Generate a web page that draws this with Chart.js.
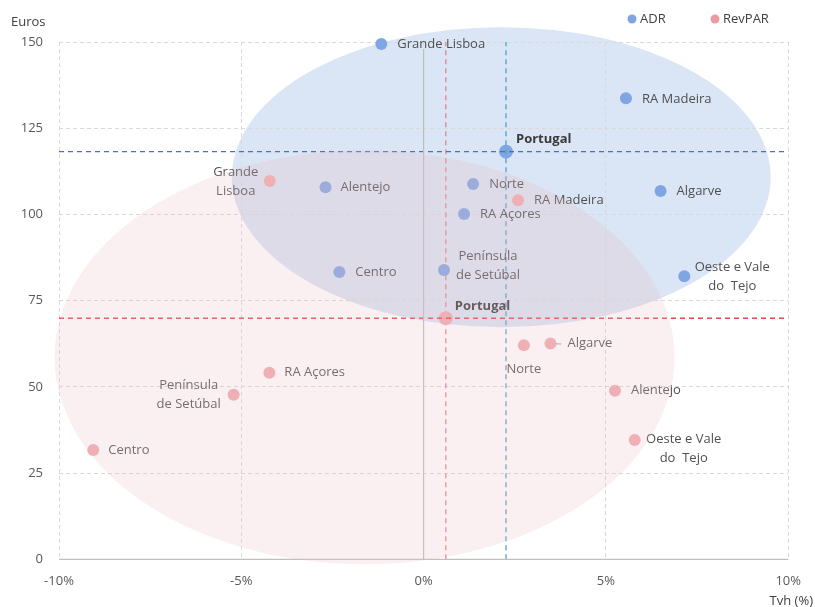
<!DOCTYPE html>
<html>
<head>
<meta charset="utf-8">
<script src="https://cdn.jsdelivr.net/npm/chart.js@4"></script>
<style>
  html,body{margin:0;padding:0;background:#fff;}
  #wrap{width:815px;height:607px;position:relative;}
</style>
</head>
<body>
<div id="wrap"><canvas id="chart"></canvas></div>
<script>
// ─── Data ───
const regions   = ['Grande Lisboa','RA Madeira','Algarve','Norte','RA Açores','Alentejo','Península de Setúbal','Centro','Oeste e Vale do Tejo','Portugal'];
const adrTvh    = [-1.16, 5.55, 6.50, 1.36, 1.11, -2.69, 0.56, -2.31, 7.15, 2.26];
const adrEuros  = [149.4, 133.7, 106.8, 108.8, 100.1, 107.9, 83.9, 83.3, 82.1, 118.2];
const revTvh    = [-4.22, 2.59, 3.48, 2.75, -4.23, 5.25, -5.21, -9.06, 5.79, 0.61];
const revEuros  = [109.7, 104.1, 62.6, 62.1, 54.1, 48.9, 47.7, 31.7, 34.6, 69.9];
const adrText   = ['Grande Lisboa','RA Madeira','Algarve','Norte','RA Açores','Alentejo','Península\nde Setúbal','Centro','Oeste e Vale\ndo  Tejo','Portugal'];
const revText   = ['Grande\nLisboa','RA Madeira','Algarve','Norte','RA Açores','Alentejo','Península\nde Setúbal','Centro','Oeste e Vale\ndo  Tejo','Portugal'];
const xTicks    = [-10,-5,0,5,10];
const yTicks    = [0,25,50,75,100,125,150];
const PT = regions.indexOf('Portugal');

// ─── Label placement (px offsets from the point) ───
const adrPlace = [
  {dx:16,dy:0},{dx:16,dy:1},{dx:16,dy:0},{dx:16,dy:0},{dx:16,dy:0},{dx:15,dy:0},
  {dx:44,dy:-14,align:'center'},{dx:16,dy:0},{dx:48,dy:-9,align:'center'},{dx:10,dy:-12,bold:true}
];
const revPlace = [
  {dx:-34,dy:-9,align:'center'},{dx:16,dy:0},{dx:17,dy:0,leader:true},{dx:0,dy:24,align:'center'},
  {dx:15,dy:0},{dx:16,dy:0},{dx:-45,dy:-10,align:'center'},{dx:15,dy:0},{dx:49,dy:-1,align:'center'},{dx:9,dy:-12,bold:true}
];

// ─── Colours ───
const C_ADR='#7fa5e3', C_REV='#efabaf';
const FONT="'Open Sans', sans-serif";

// ellipses in data units
const blueEll={cx:2.13,cy:110.8,rx:7.39,ry:43.5};
const pinkEll={cx:-1.62,cy:58.6,rx:8.5,ry:60};

function ellipse(chart,e,fill){
  const {x,y}=chart.scales, ctx=chart.ctx;
  const cx=x.getPixelForValue(e.cx), cy=y.getPixelForValue(e.cy);
  const rx=x.getPixelForValue(e.cx+e.rx)-cx, ry=cy-y.getPixelForValue(e.cy+e.ry);
  ctx.save();ctx.fillStyle=fill;ctx.beginPath();ctx.ellipse(cx,cy,rx,ry,0,0,Math.PI*2);ctx.fill();ctx.restore();
}

function drawLabels(chart,dsIndex,texts,place){
  const ctx=chart.ctx, meta=chart.getDatasetMeta(dsIndex);
  meta.data.forEach((pt,i)=>{
    const p=place[i], lines=texts[i].split('\n');
    ctx.save();
    ctx.font=(p.bold?'bold ':'')+'13px '+FONT;
    ctx.fillStyle=p.bold?'#3a3a3a':'#505050';
    ctx.textAlign=p.align||'left';ctx.textBaseline='middle';
    lines.forEach((l,k)=>ctx.fillText(l,pt.x+p.dx,pt.y+p.dy+k*19));
    if(p.leader){
      ctx.strokeStyle='#a0a0a0';ctx.lineWidth=1;
      ctx.beginPath();ctx.moveTo(pt.x+5,pt.y+0.5);ctx.lineTo(pt.x+11,pt.y+0.5);ctx.stroke();
    }
    ctx.restore();
  });
}

const decor={
  id:'decor',
  beforeDraw(chart){ ellipse(chart,blueEll,'rgb(218,229,245)'); },
  afterDatasetsDraw(chart){
    drawLabels(chart,5,adrText,adrPlace);
    drawLabels(chart,6,revText,revPlace);
    ellipse(chart,pinkEll,'rgba(235,190,200,0.25)');
  },
  afterDraw(chart){
    const ctx=chart.ctx;
    ctx.save();
    ctx.font='13px '+FONT;ctx.fillStyle='#404040';ctx.textBaseline='middle';
    ctx.textAlign='left';ctx.fillText('Euros',11,22);
    ctx.textAlign='right';ctx.fillText('Tvh (%)',813,601);
    // legend
    [[632,'ADR',C_ADR],[715,'RevPAR','#eb9aa1']].forEach(([lx,t,c])=>{
      ctx.fillStyle=c;ctx.beginPath();ctx.arc(lx,19,4.5,0,Math.PI*2);ctx.fill();
      ctx.fillStyle='#404040';ctx.textAlign='left';ctx.fillText(t,lx+8,19);
    });
    ctx.restore();
  }
};

const refLine=(data,color)=>({type:'line',data,borderColor:color,borderWidth:1.3,borderDash:[5,4],pointRadius:0,fill:false,clip:false});

new Chart(document.getElementById('chart'),{
  type:'scatter',
  data:{datasets:[
    {type:'line',data:[{x:-10,y:0},{x:10,y:0}],borderColor:'#bfbfbf',borderWidth:1.3,pointRadius:0,clip:false},
    {type:'line',data:[{x:0,y:0},{x:0,y:148}],borderColor:'#bdbdbd',borderWidth:1.2,pointRadius:0},
    refLine([{x:-10,y:adrEuros[PT]},{x:10,y:adrEuros[PT]}],'#4a72b4'),
    refLine([{x:adrTvh[PT],y:0},{x:adrTvh[PT],y:150}],'#5a9ec4'),
    refLine([{x:-10,y:revEuros[PT]},{x:10,y:revEuros[PT]}],'#e04a4a'),
    {label:'ADR',data:adrTvh.map((v,i)=>({x:v,y:adrEuros[i]})),backgroundColor:C_ADR,borderWidth:0,
      pointRadius:adrTvh.map((v,i)=>i===PT?7:6),pointHoverRadius:7,clip:false},
    {label:'RevPAR',data:revTvh.map((v,i)=>({x:v,y:revEuros[i]})),backgroundColor:C_REV,borderWidth:0,
      pointRadius:revTvh.map((v,i)=>i===PT?7:6),pointHoverRadius:7,clip:false},
    refLine([{x:revTvh[PT],y:0},{x:revTvh[PT],y:150}],'#ea808a'),
  ]},
  options:{
    responsive:true,maintainAspectRatio:false,animation:false,
    layout:{padding:{top:42,right:25,left:0,bottom:0}},
    plugins:{legend:{display:false},tooltip:{enabled:false}},
    scales:{
      x:{type:'linear',min:-10,max:10,
        afterBuildTicks:s=>{s.ticks=xTicks.map(v=>({value:v}));},
        afterFit:s=>{s.height=47.7;},
        grid:{color:'#d9d9d9',lineWidth:1,drawTicks:false},
        border:{display:false,dash:[4,3]},
        ticks:{padding:14,color:'#595959',font:{family:FONT,size:13},callback:v=>v+'%'}},
      y:{type:'linear',min:0,max:150,
        afterBuildTicks:s=>{s.ticks=yTicks.map(v=>({value:v}));},
        afterFit:s=>{s.width=59;},
        grid:{color:'#d9d9d9',lineWidth:1,drawTicks:false},
        border:{display:false,dash:[4,3]},
        ticks:{padding:16,color:'#595959',font:{family:FONT,size:13}}}
    }
  },
  plugins:[decor]
});
</script>
</body>
</html>
